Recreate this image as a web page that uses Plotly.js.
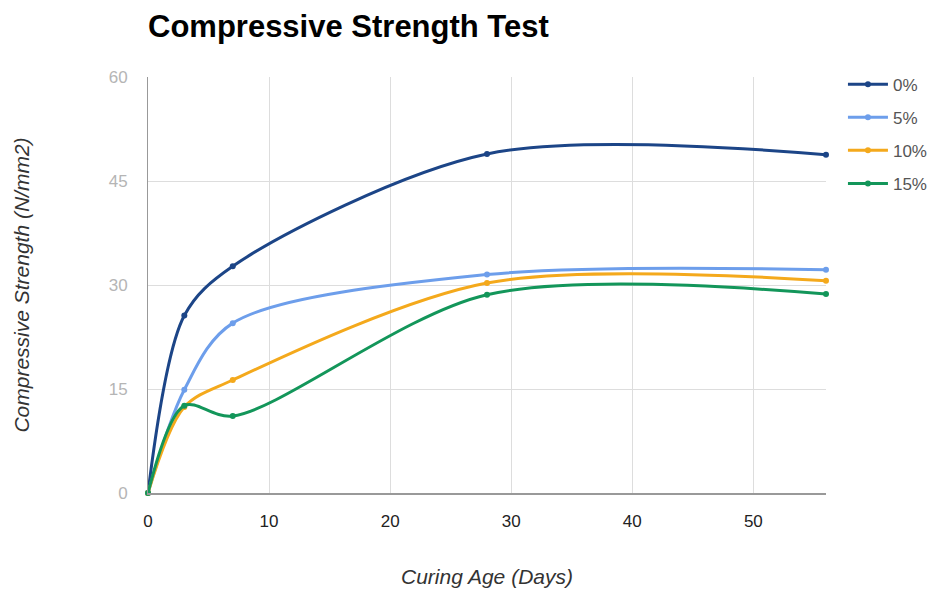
<!DOCTYPE html>
<html><head><meta charset="utf-8">
<script src="https://cdn.plot.ly/plotly-3.0.1.min.js"></script>
<style>html,body{margin:0;padding:0;background:#fff}</style>
</head><body><div id="chart" style="width:936px;height:592px"></div>
<script>
const days = [0, 3, 7, 28, 56];
const s0 = [0, 25.6, 32.7, 48.9, 48.8];
const s5 = [0, 14.9, 24.5, 31.5, 32.2];
const s10 = [0, 12.4, 16.3, 30.3, 30.6];
const s15 = [0, 12.6, 11.1, 28.6, 28.7];
const names = ['0%', '5%', '10%', '15%'];
const colors = ['#1c4587', '#6d9eeb', '#f4a91c', '#13965a'];
const series = [s0, s5, s10, s15];
const traces = series.map((s, i) => ({
  x: days, y: s, name: names[i], type: 'scatter', mode: 'lines+markers',
  legendgroup: 'g' + i,
  line: {color: colors[i], width: 3, shape: 'spline', smoothing: 0.9},
  marker: {color: colors[i], size: 6},
  cliponaxis: false
}));
const layout = {
  width: 936, height: 592,
  margin: {l: 148, r: 110, t: 77, b: 99, autoexpand: false},
  paper_bgcolor: '#fff', plot_bgcolor: '#fff',
  font: {family: 'Liberation Sans, Arial, sans-serif'},
  title: {text: '<b>Compressive Strength Test</b>', x: 148/936, xanchor: 'left', y: 1 - 26/592, yanchor: 'middle', font: {size: 31, color: '#000'}},
  xaxis: {range: [0, 56], dtick: 10, tick0: 0, showgrid: true, gridcolor: '#dddddd', zeroline: false,
    showline: true, linecolor: '#999', linewidth: 1.5, ticks: '', ticklabelstandoff: 12, tickfont: {size: 17, color: '#222'},
    title: {text: '<i>Curing Age (Days)</i>', font: {size: 21, color: '#333'}, standoff: 39}},
  yaxis: {range: [0, 60], dtick: 15, tick0: 0, showgrid: true, gridcolor: '#dddddd', zeroline: false,
    showline: true, linecolor: '#999', linewidth: 1, ticks: '', ticklabelstandoff: 16, tickfont: {size: 17, color: '#b5b5b5'},
    title: {text: '<i>Compressive Strength (N/mm2)</i>', font: {size: 21, color: '#333'}, standoff: 73}},
  legend: {x: 1.025, xanchor: 'left', y: 1.025, yanchor: 'top', font: {size: 17, color: '#555'}, tracegroupgap: 8, itemwidth: 40},
  showlegend: true
};
Plotly.newPlot('chart', traces, layout, {displayModeBar: false});
</script></body></html>
